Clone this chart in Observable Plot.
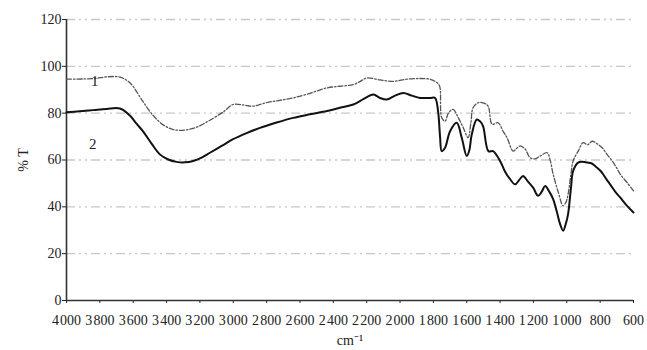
<!DOCTYPE html>
<html><head><meta charset="utf-8">
<script src="https://cdn.jsdelivr.net/npm/d3@7"></script>
<script src="https://cdn.jsdelivr.net/npm/@observablehq/plot@0.6"></script>
<style>
body{margin:0;background:#fff}
svg, svg text{font-family:"Liberation Serif","Times New Roman",serif !important}
svg g[aria-label$="tick label"], svg g[aria-label$="axis label"]{font-size:14px !important}
</style>
</head><body><div id="chart"></div>
<script>
// Curve 1 (upper, dashed)
const wn1 = [4000,3900,3830,3760,3680,3620,3560,3542,3480,3420,3360,3290,3220,3140,3060,3001,2940,2881,2800,2720,2641,2540,2438,2360,2280,2240,2200,2120,2040,1960,1880,1820,1790,1770,1760,1750,1730,1710,1682,1650,1620,1592,1575,1562,1530,1502,1472,1448,1412,1380,1358,1322,1300,1280,1250,1220,1190,1160,1118,1100,1082,1050,1022,1005,992,975,962,930,902,875,848,820,788,760,728,700,680,640,600];
const t1 = [94.5,94.6,94.8,95.5,95.4,93,87,85,79,75,73,72.8,74,77,80.5,83.7,83.5,83,84.5,85.5,86.5,88.5,90.8,91.5,92.2,93.5,95,94.2,93.6,94.5,94.8,94.5,93.6,92.5,90.8,78,76.6,80,81.6,78,73.7,69.5,76,82.3,84.5,84.4,83,75.3,75.9,72,69.5,63.8,65,66,64.7,61,60.5,61.7,63.1,60,54,46,40.4,42,45.5,54,59.6,64,67.4,66.5,68,67,65.2,62.5,59.6,56.5,54,50.5,46.8];
// Curve 2 (lower, solid)
const wn2 = [4000,3920,3840,3760,3680,3620,3580,3542,3490,3440,3390,3340,3290,3240,3190,3140,3070,3001,2920,2840,2740,2641,2540,2438,2360,2280,2220,2160,2120,2080,2030,1980,1930,1880,1820,1790,1772,1760,1750,1730,1700,1660,1630,1600,1585,1570,1540,1520,1502,1470,1442,1400,1370,1340,1310,1285,1262,1235,1202,1172,1150,1130,1105,1082,1060,1040,1022,1005,992,975,962,932,905,878,850,830,800,782,760,740,710,680,640,600];
const t2 = [80.4,80.8,81.3,81.8,82,79,75.5,72.3,67,62.4,60.2,59.2,59,59.6,61,63.1,66,68.9,71.5,73.7,76,78,79.5,80.9,82.3,83.7,86,88,86.5,85.8,87.5,88.6,87.5,86.5,86.5,86.5,80.9,70,63.8,65.2,72.3,75.9,69.5,61.7,64,70.9,77.3,76.5,74.5,63.8,63.8,59.6,55,51.8,49.6,51.5,53.2,51,48.2,44.7,46.5,48.9,46.5,43.3,38,32.6,29.8,33,37,48,55.3,58.9,59.2,58.9,58.5,57.4,55.5,53.9,51.5,49.6,46.5,44,40.5,37.6];

const xTicks = [4000,3800,3600,3400,3200,3000,2800,2600,2400,2200,2000,1800,1600,1400,1200,1000,800,600];
const yTicks = [0,20,40,60,80,100,120];
const gridLevels = [20,40,60,80,100,120];
const curveNames = ["1","2"];
const curveNameX = [3830,3842];
const curveNameY = [93.6,66.8];

const d1 = wn1.map((x,i)=>({x, y:t1[i]}));
const d2 = wn2.map((x,i)=>({x, y:t2[i]}));
const labels = curveNames.map((t,i)=>({t, x:curveNameX[i], y:curveNameY[i]}));

const fmt = d => d >= 1000 ? Math.floor(d/1000) + "\u200A" + String(d%1000).padStart(3,"0") : String(d);

const chart = Plot.plot({
  width: 647, height: 350,
  marginLeft: 66, marginRight: 14, marginTop: 19, marginBottom: 50,
  style: {fontFamily: "'Liberation Serif', 'Times New Roman', serif", fontSize: "14px", background: "#fff", color: "#222"},
  x: {domain: [4000, 600], ticks: xTicks, tickFormat: fmt, tickSize: 3, tickPadding: 12, label: "cm\u207B\u00B9", labelAnchor: "center", labelArrow: "none", labelOffset: 44},
  y: {domain: [0, 120], ticks: yTicks, tickSize: 4, tickPadding: 1, label: "% T", labelAnchor: "center", labelArrow: "none", labelOffset: 48},
  marks: [
    Plot.ruleY(gridLevels, {stroke: "#c8c8c8", strokeWidth: 1.3, strokeDasharray: "9,4,2,4,2,4"}),
    Plot.ruleX([4000], {stroke: "#333", strokeWidth: 1.6}),
    Plot.ruleY([0], {stroke: "#333", strokeWidth: 1.6}),
    Plot.line(d1, {x: "x", y: "y", curve: "catmull-rom", stroke: "#555", strokeWidth: 1.3, strokeDasharray: "5,2,1.5,2"}),
    Plot.line(d2, {x: "x", y: "y", curve: "catmull-rom", stroke: "#111", strokeWidth: 2}),
    Plot.text(labels, {x: "x", y: "y", text: "t", fontSize: 15, fill: "#222"})
  ]
});
document.getElementById("chart").appendChild(chart);
</script>
</body></html>
